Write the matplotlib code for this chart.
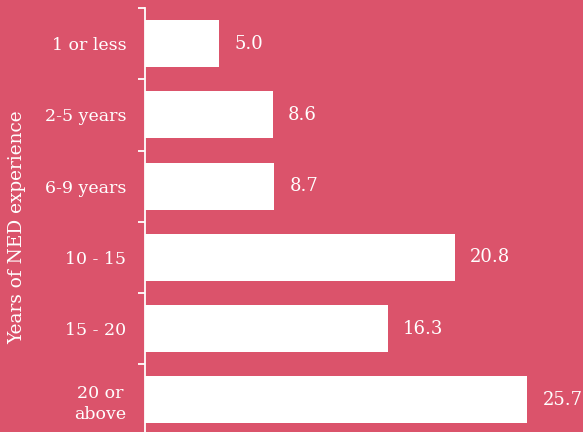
import matplotlib
matplotlib.use("Agg")
import matplotlib.pyplot as plt
import numpy as np

categories = ["1 or less", "2-5 years", "6-9 years", "10 - 15", "15 - 20", "20 or\nabove"]
values = [5.0, 8.6, 8.7, 20.8, 16.3, 25.7]

bg = "#DB536B"
fg = "white"
plt.rcParams["font.family"] = "DejaVu Serif"

fig = plt.figure(figsize=(5.83, 4.32), dpi=100, facecolor=bg)
ax = fig.add_axes([145 / 583, -3.6 / 432, 438 / 583, 427.6 / 432])
ax.set_facecolor(bg)

pos = np.arange(len(categories))
ax.barh(pos, values, height=0.66, color=fg)
for p, v in zip(pos, values):
    ax.text(v + 1.0, p, "%.1f" % v, color=fg, fontsize=13, va="center", ha="left")

ax.set_ylim(len(categories) - 0.5, -0.5)
ax.set_xlim(0, 29.43)

# labels sit at the bar centres, tick marks at the boundaries
ax.set_yticks(pos)
ax.set_yticklabels(categories, color=fg, fontsize=12.5, ha="right",
                   multialignment="center", linespacing=1.3)
ax.set_yticks(np.arange(-0.5, len(categories), 1), minor=True)
ax.tick_params(axis="y", which="major", length=0, pad=13.5)
ax.tick_params(axis="y", which="minor", length=5, width=1.3, color=fg, direction="out")
ax.set_xticks([])

for s in ["top", "right", "bottom"]:
    ax.spines[s].set_visible(False)
ax.spines["left"].set_color(fg)
ax.spines["left"].set_linewidth(1.3)

ax.set_ylabel("Years of NED experience", color=fg, fontsize=13.3)
ax.yaxis.set_label_coords(-0.272, 0.487)

fig.savefig("out.png", dpi=100, facecolor=bg)
